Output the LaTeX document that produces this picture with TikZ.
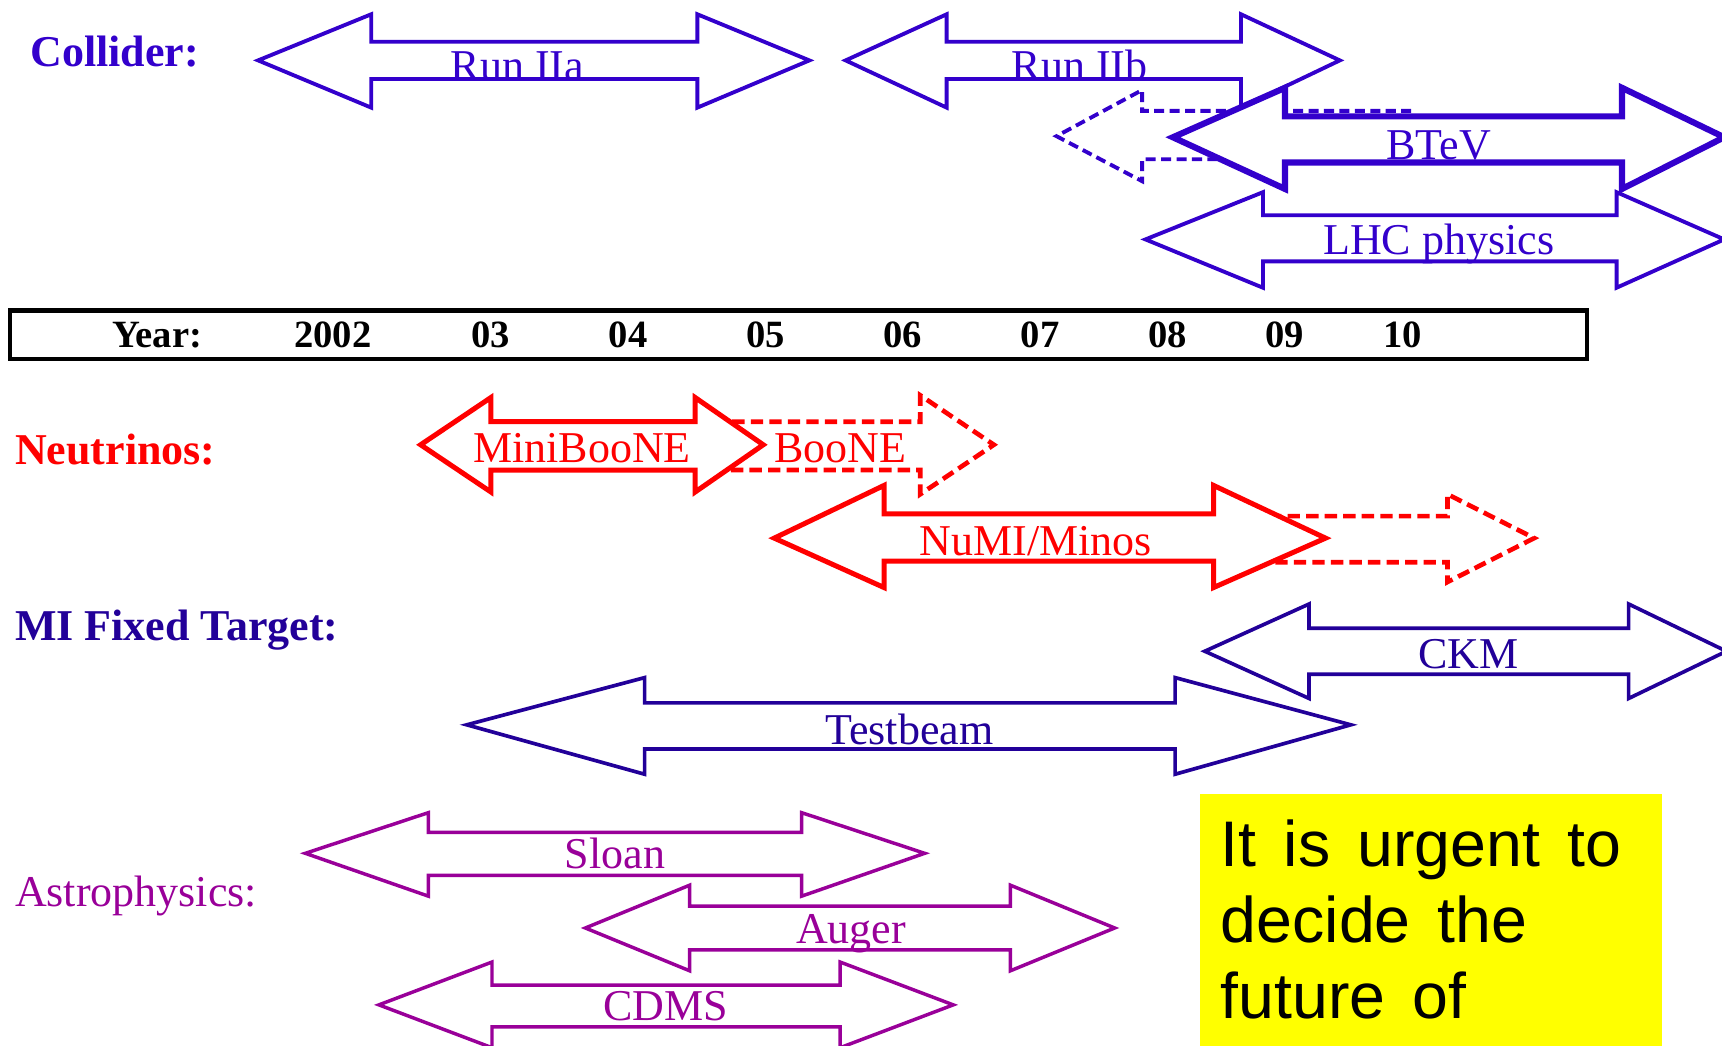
\documentclass[tikz,border=0pt]{standalone}
\usepackage{fontspec}
\setmainfont{Liberation Serif}
\newfontfamily\notefont{Liberation Sans}
\usepackage{tikz}
\definecolor{tblue}{RGB}{51,0,204}
\definecolor{tred}{RGB}{255,0,0}
\definecolor{tnavy}{RGB}{34,0,153}
\definecolor{tpurple}{RGB}{153,0,153}
\definecolor{tyellow}{RGB}{255,255,0}
\newcommand{\notesize}{\notefont\fontsize{16.7}{19.6}\selectfont\spaceskip 0.42em\relax}

\begin{document}
\begin{tikzpicture}[x=0.1mm, y=-0.1mm,
    colarrow/.style={draw=tblue, line width=1pt, fill=white},
    neuarrow/.style={draw=tred, line width=1.3pt, fill=white},
    neudash/.style={draw=tred, line width=1.2pt, dash pattern=on 3.2pt off 1.6pt},
    fixarrow/.style={draw=tnavy, line width=0.95pt, fill=white},
    astarrow/.style={draw=tpurple, line width=0.9pt, fill=white},
    arrlabel/.style={anchor=base, inner sep=0pt, font=\fontsize{11.4}{13}\selectfont},
    catlabel/.style={anchor=base west, inner sep=0pt, font=\fontsize{11.4}{13}\selectfont\bfseries},
    yearlabel/.style={anchor=base, inner sep=0pt, font=\fontsize{10}{12}\selectfont\bfseries},
    notetext/.style={anchor=base west, inner sep=0pt, font=\notesize}]
    \useasboundingbox (0,0) rectangle (1568,952);

    % collider
    \node[catlabel, tblue] (collider) at (27,61) {Collider:};
    \draw[colarrow] (235,55) -- (338,13) -- (338,38) -- (635,38) -- (635,13) -- (737,55)
        -- (635,98) -- (635,72) -- (338,72) -- (338,98) -- cycle;
    \node[arrlabel, tblue] (runiia) at (471,73) {Run IIa};
    \draw[colarrow] (770,55) -- (862,13) -- (862,38) -- (1130,38) -- (1130,13) -- (1220,55)
        -- (1130,98) -- (1130,72) -- (862,72) -- (862,98) -- cycle;
    \node[arrlabel, tblue] (runiib) at (983,73) {Run IIb};

    % btev, dashed start behind it
    \draw[draw=tblue, line width=1pt, dash pattern=on 2.6pt off 1.4pt]
        (1285,101) -- (1040,101) -- (1040,82) -- (962,124) -- (1040,165) -- (1040,145) -- (1285,145);
    \draw[colarrow, line width=1.6pt] (1068,125) -- (1170,80) -- (1170,106) -- (1477,106) -- (1477,80) -- (1570,125)
        -- (1477,172) -- (1477,148) -- (1170,148) -- (1170,172) -- cycle;
    \node[arrlabel, tblue] (btev) at (1310,145) {BTeV};

    % lhc
    \draw[colarrow] (1043,218) -- (1150,175) -- (1150,196) -- (1472,196) -- (1472,175) -- (1570,218)
        -- (1472,262) -- (1472,238) -- (1150,238) -- (1150,262) -- cycle;
    \node[arrlabel, tblue] (lhc) at (1310,232) {LHC physics};

    % year bar
    \draw[line width=1.2pt] (9,283) rectangle (1445,327);
    \node[yearlabel] (yr) at (143,316) {Year:};
    \node[yearlabel] (yr02) at (303,316) {2002};
    \node[yearlabel] (yr03) at (447,316) {03};
    \node[yearlabel] (yr04) at (572,316) {04};
    \node[yearlabel] (yr05) at (697,316) {05};
    \node[yearlabel] (yr06) at (822,316) {06};
    \node[yearlabel] (yr07) at (947,316) {07};
    \node[yearlabel] (yr08) at (1063,316) {08};
    \node[yearlabel] (yr09) at (1170,316) {09};
    \node[yearlabel] (yr10) at (1277,316) {10};

    % neutrinos
    \node[catlabel, tred] (neutrinos) at (13,423) {Neutrinos:};
    \draw[neudash] (633,384) -- (838,384) -- (838,360) -- (905,405) -- (838,450) -- (838,428) -- (633,428);
    \draw[neuarrow] (383,405) -- (447,362) -- (447,384) -- (633,384) -- (633,362) -- (695,405)
        -- (633,448) -- (633,428) -- (447,428) -- (447,448) -- cycle;
    \node[arrlabel, tred] (miniboone) at (530,421) {MiniBooNE};
    \node[arrlabel, tred] (boone) at (765,421) {BooNE};

    \draw[neudash] (1105,470) -- (1318,470) -- (1318,450) -- (1397,490) -- (1318,530) -- (1318,512) -- (1105,512);
    \draw[neuarrow] (705,490) -- (805,442) -- (805,468) -- (1105,468) -- (1105,442) -- (1207,490)
        -- (1105,535) -- (1105,511) -- (805,511) -- (805,535) -- cycle;
    \node[arrlabel, tred] (numi) at (943,506) {NuMI/Minos};

    % mi fixed target
    \node[catlabel, tnavy] (fixed) at (13,583) {MI Fixed Target:};
    \draw[fixarrow] (1097,593) -- (1192,550) -- (1192,572) -- (1483,572) -- (1483,550) -- (1572,593)
        -- (1483,636) -- (1483,614) -- (1192,614) -- (1192,636) -- cycle;
    \node[arrlabel, tnavy] (ckm) at (1337,609) {CKM};
    \draw[fixarrow] (425,660) -- (587,617) -- (587,640) -- (1070,640) -- (1070,617) -- (1230,660)
        -- (1070,705) -- (1070,682) -- (587,682) -- (587,705) -- cycle;
    \node[arrlabel, tnavy] (testbeam) at (828,678) {Testbeam};

    % astrophysics
    \node[catlabel, tpurple, font=\fontsize{11.4}{13}\selectfont] (astro) at (13,825) {Astrophysics:};
    \draw[astarrow] (278,777) -- (390,740) -- (390,758) -- (730,758) -- (730,740) -- (842,777)
        -- (730,816) -- (730,797) -- (390,797) -- (390,816) -- cycle;
    \node[arrlabel, tpurple] (sloan) at (560,791) {Sloan};
    \draw[astarrow] (533,845) -- (628,806) -- (628,825) -- (920,825) -- (920,806) -- (1015,845)
        -- (920,884) -- (920,865) -- (628,865) -- (628,884) -- cycle;
    \node[arrlabel, tpurple] (auger) at (775,859) {Auger};
    \draw[astarrow] (345,915) -- (448,876) -- (448,897) -- (765,897) -- (765,876) -- (868,915)
        -- (765,954) -- (765,935) -- (448,935) -- (448,954) -- cycle;
    \node[arrlabel, tpurple] (cdms) at (606,929) {CDMS};

    % note
    \fill[tyellow] (1093,723) rectangle (1513,960);
    \node[notetext] (note1) at (1111,789) {It is urgent to};
    \node[notetext] (note2) at (1111,858) {decide the};
    \node[notetext] (note3) at (1111,927) {future of};
\end{tikzpicture}
\end{document}
